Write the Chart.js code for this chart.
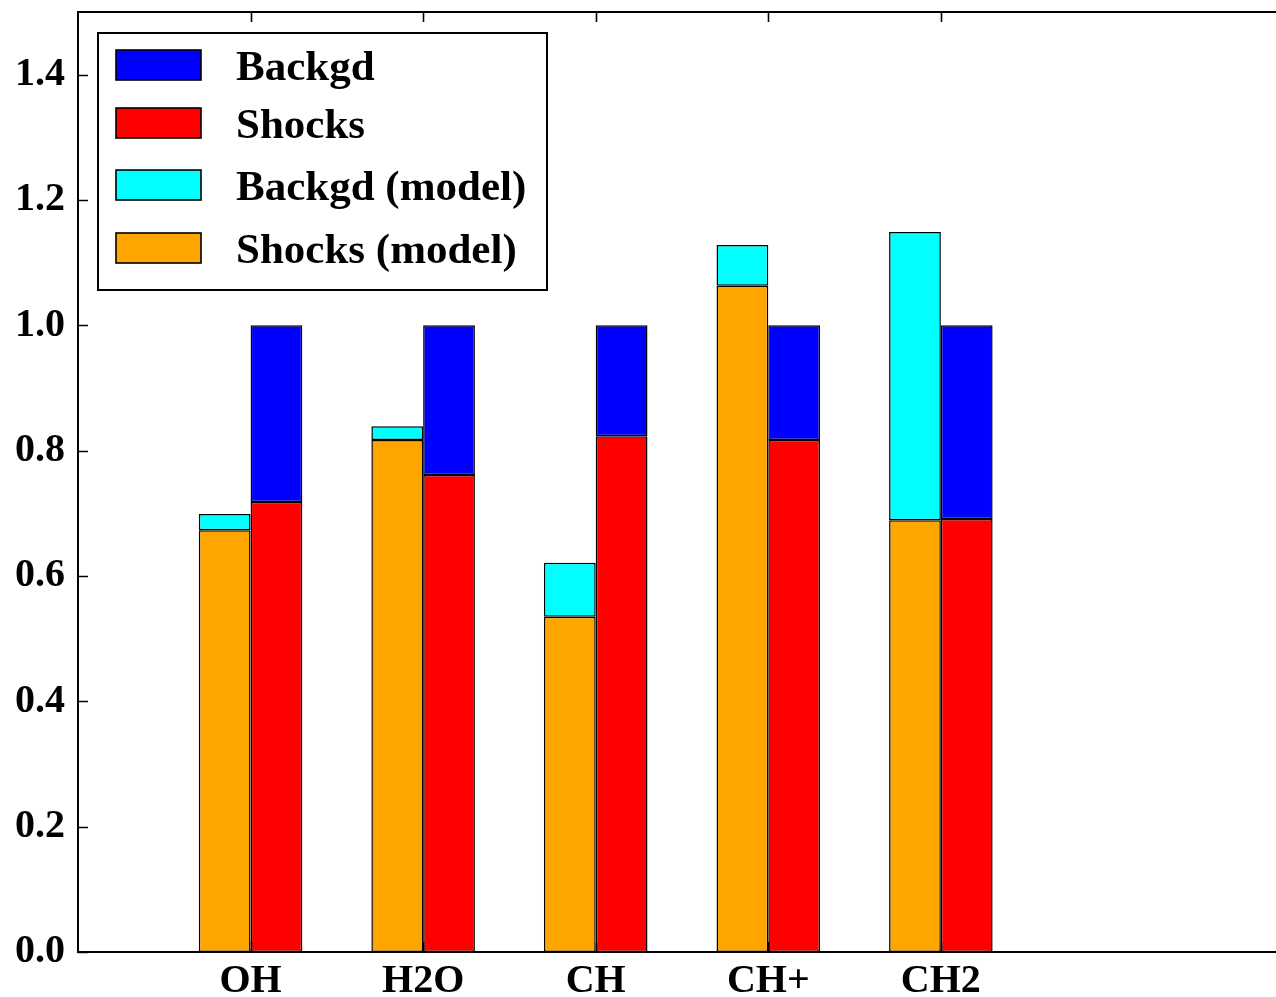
<!DOCTYPE html>
<html>
<head>
<meta charset="utf-8">
<title>Backgd / Shocks fractions</title>
<script src="https://cdn.jsdelivr.net/npm/chart.js@4.4.1/dist/chart.umd.min.js"></script>
<style>
  html, body { margin: 0; padding: 0; background: #fff; overflow: hidden; }
  #wrap { position: absolute; left: 0; top: 0; width: 1296px; height: 997px; }
</style>
</head>
<body>
<div id="wrap"><canvas id="chart"></canvas></div>
<script>
// Molecules along the x axis
const species = ['OH', 'H2O', 'CH', 'CH+', 'CH2'];

// Observed fractions (stacked to 1)
const shocksObs = [0.718, 0.761, 0.823, 0.817, 0.691];
const backgdObs = [0.282, 0.239, 0.177, 0.183, 0.309];

// Model fractions
const shocksModel = [0.673, 0.817, 0.535, 1.063, 0.689];
const backgdModel = [0.026, 0.022, 0.086, 0.065, 0.460];

// Axis ticks
const yTicks = [0.0, 0.2, 0.4, 0.6, 0.8, 1.0, 1.2, 1.4];
const xMin = -1, xMax = 6;
const yMin = 0, yMax = 1.5;

const SERIF = '"Liberation Serif", "Times New Roman", serif';

const toPoints = arr => arr.map((v, i) => ({ x: i, y: v }));

const datasets = [
  { label: 'Shocks (model)', data: toPoints(shocksModel), backgroundColor: '#ffa500', stack: 'model' },
  { label: 'Backgd (model)', data: toPoints(backgdModel), backgroundColor: '#00ffff', stack: 'model' },
  { label: 'Shocks',         data: toPoints(shocksObs),   backgroundColor: '#ff0000', stack: 'obs' },
  { label: 'Backgd',         data: toPoints(backgdObs),   backgroundColor: '#0000ff', stack: 'obs' }
].map(d => Object.assign(d, {
  borderColor: '#000',
  borderWidth: 1.5,
  borderSkipped: false,
  categoryPercentage: 0.6,
  barPercentage: 1.0
}));

// Axes frame with inward ticks on all four sides
const framePlugin = {
  id: 'frame',
  afterDatasetsDraw(chart) {
    const { ctx, chartArea: a, scales } = chart;
    const t = 10;
    ctx.save();
    ctx.strokeStyle = '#000';
    ctx.lineWidth = 1.6;
    scales.y.ticks.forEach(tk => {
      const py = Math.round(scales.y.getPixelForValue(tk.value)) + 0.5;
      ctx.beginPath();
      ctx.moveTo(a.left, py); ctx.lineTo(a.left + t, py);
      ctx.moveTo(a.right, py); ctx.lineTo(a.right - t, py);
      ctx.stroke();
    });
    scales.x.ticks.forEach(tk => {
      const px = Math.round(scales.x.getPixelForValue(tk.value)) + 0.5;
      ctx.beginPath();
      ctx.moveTo(px, a.top); ctx.lineTo(px, a.top + t);
      ctx.moveTo(px, a.bottom); ctx.lineTo(px, a.bottom - t);
      ctx.stroke();
    });
    ctx.lineWidth = 2;
    ctx.strokeRect(a.left, a.top, a.right - a.left, a.bottom - a.top);
    ctx.restore();
  }
};

// Boxed legend in the upper-left corner of the plot
const legendPlugin = {
  id: 'boxLegend',
  afterDraw(chart) {
    const { ctx, chartArea: a } = chart;
    const order = [3, 2, 1, 0];
    const bx = a.left + 20, by = a.top + 21, bw = 449, bh = 257;
    ctx.save();
    ctx.fillStyle = '#fff';
    ctx.fillRect(bx, by, bw, bh);
    ctx.strokeStyle = '#000';
    ctx.lineWidth = 2;
    ctx.strokeRect(bx, by, bw, bh);
    const rowBottoms = [a.top + 68, a.top + 126, a.top + 188, a.top + 251];
    ctx.font = 'bold 43px ' + SERIF;
    ctx.textBaseline = 'alphabetic';
    ctx.textAlign = 'left';
    order.forEach((di, k) => {
      const ds = chart.data.datasets[di];
      const yb = rowBottoms[k];
      ctx.fillStyle = ds.backgroundColor;
      ctx.fillRect(bx + 18, yb - 30, 85, 30);
      ctx.lineWidth = 1.6;
      ctx.strokeRect(bx + 18, yb - 30, 85, 30);
      ctx.fillStyle = '#000';
      ctx.fillText(ds.label, bx + 138, yb);
    });
    ctx.restore();
  }
};

new Chart(document.getElementById('chart'), {
  type: 'bar',
  data: { datasets },
  options: {
    responsive: true,
    maintainAspectRatio: false,
    animation: false,
    layout: { autoPadding: false, padding: { top: 12, right: 10, left: 0, bottom: 0 } },
    plugins: {
      legend: { display: false },
      tooltip: { enabled: false }
    },
    scales: {
      x: {
        type: 'linear',
        offset: false,
        stacked: true,
        min: xMin,
        max: xMax,
        grid: { display: false, drawTicks: false, offset: false },
        border: { display: false },
        afterBuildTicks: s => { s.ticks = species.map((_, i) => ({ value: i })); },
        afterFit: s => { s.height = 45; s.paddingLeft = 0; s.paddingRight = 0; },
        ticks: {
          autoSkip: false,
          maxRotation: 0,
          padding: 6,
          color: '#000',
          font: { family: SERIF, size: 40, weight: 'bold' },
          callback: v => species[v] ?? ''
        }
      },
      y: {
        stacked: true,
        min: yMin,
        max: yMax,
        grid: { display: false, drawTicks: false },
        border: { display: false },
        afterBuildTicks: s => { s.ticks = yTicks.map(v => ({ value: v })); },
        afterFit: s => { s.width = 78; s.paddingTop = 0; s.paddingBottom = 0; },
        ticks: {
          padding: 13,
          color: '#000',
          font: { family: SERIF, size: 40, weight: 'bold' },
          callback: v => Number(v).toFixed(1)
        }
      }
    }
  },
  plugins: [framePlugin, legendPlugin]
});
</script>
</body>
</html>
